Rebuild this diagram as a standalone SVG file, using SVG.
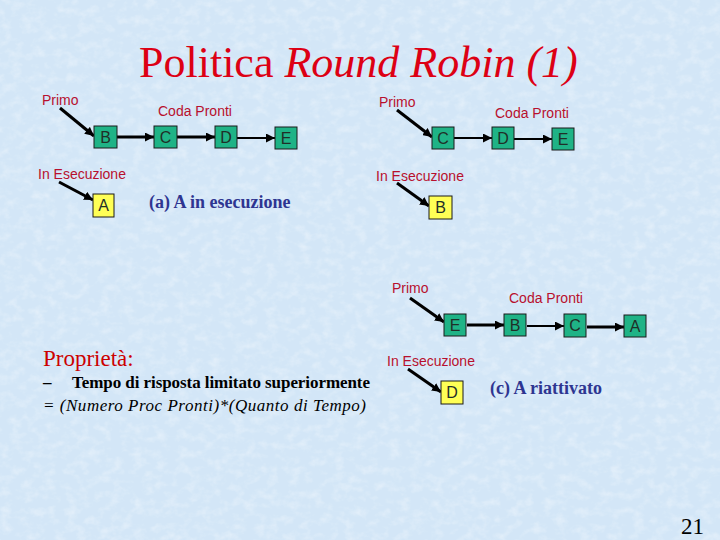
<svg xmlns="http://www.w3.org/2000/svg" width="720" height="540" viewBox="0 0 720 540">
<defs>
<filter id="tex" x="0" y="0" width="100%" height="100%">
<feTurbulence type="fractalNoise" baseFrequency="0.09 0.12" numOctaves="3" seed="7" result="n"/>
<feColorMatrix in="n" type="matrix" values="0 0 0 0 1  0 0 0 0 1  0 0 0 0 1  0 0 0 1.8 -0.8"/>
</filter>
<marker id="ah" markerUnits="userSpaceOnUse" markerWidth="10" markerHeight="9" refX="9" refY="4.5" orient="auto">
<path d="M0,0 L9,4.5 L0,9 Z" fill="#000"/>
</marker>
<style>
.bx{stroke:#1a1a1a;stroke-width:1}
.g{fill:#1fb386}
.y{fill:#ffff55}
.bt{font-family:"Liberation Sans",Arial,sans-serif;font-size:16px;fill:#1f2f28;text-anchor:middle}
.lb{font-family:"Liberation Sans",Arial,sans-serif;font-size:14px;fill:#b8102e}
.c{fill:none;stroke:#000;marker-end:url(#ah)}
.k{stroke-width:3}
.t{stroke-width:2}
.cap{font-family:"Liberation Serif","Times New Roman",serif;font-size:18px;font-weight:bold;fill:#2e3591}
</style>
</defs>
<rect width="720" height="540" fill="#d3e6f7"/>
<rect width="720" height="540" filter="url(#tex)" opacity="0.4"/>

<text x="139" y="77" font-family="Liberation Serif,'Times New Roman',serif" font-size="44" fill="#dd0014">Politica <tspan font-style="italic">Round Robin (1)</tspan></text>

<g id="connectors">
<line class="c k" x1="60" y1="108" x2="94" y2="136"/>
<line class="c k" x1="117" y1="137" x2="154" y2="137"/>
<line class="c k" x1="177" y1="137" x2="215" y2="137"/>
<line class="c t" x1="237" y1="138" x2="275" y2="138"/>
<line class="c k" x1="59" y1="182" x2="93" y2="200"/>

<line class="c k" x1="397" y1="110" x2="432" y2="137"/>
<line class="c t" x1="454" y1="138" x2="492" y2="138"/>
<line class="c t" x1="514" y1="139" x2="552" y2="139"/>
<line class="c k" x1="397" y1="183" x2="429" y2="206"/>

<line class="c k" x1="410" y1="298" x2="444" y2="322"/>
<line class="c k" x1="467" y1="325" x2="504" y2="325"/>
<line class="c t" x1="527" y1="326" x2="564" y2="326"/>
<line class="c k" x1="587" y1="327" x2="624" y2="327"/>
<line class="c k" x1="408" y1="369" x2="441" y2="392"/>
</g>

<g id="a-B"><rect class="bx g" x="94" y="126" width="23" height="22"/><text class="bt" x="105.5" y="143">B</text></g>
<g id="a-C"><rect class="bx g" x="154" y="126" width="23" height="22"/><text class="bt" x="165.5" y="143">C</text></g>
<g id="a-D"><rect class="bx g" x="215" y="126" width="22" height="22"/><text class="bt" x="226" y="143">D</text></g>
<g id="a-E"><rect class="bx g" x="275" y="127" width="22" height="22"/><text class="bt" x="286" y="144">E</text></g>
<g id="a-A"><rect class="bx y" x="93" y="194" width="21" height="23"/><text class="bt" x="103.5" y="211">A</text></g>

<g id="b-C"><rect class="bx g" x="432" y="127" width="22" height="22"/><text class="bt" x="443" y="144">C</text></g>
<g id="b-D"><rect class="bx g" x="492" y="127" width="22" height="22"/><text class="bt" x="503" y="144">D</text></g>
<g id="b-E"><rect class="bx g" x="552" y="128" width="22" height="22"/><text class="bt" x="563" y="145">E</text></g>
<g id="b-B"><rect class="bx y" x="429" y="196" width="23" height="23"/><text class="bt" x="440.5" y="213">B</text></g>

<g id="c-E"><rect class="bx g" x="444" y="314" width="22" height="22"/><text class="bt" x="455" y="331">E</text></g>
<g id="c-B"><rect class="bx g" x="504" y="314" width="22" height="22"/><text class="bt" x="515" y="331">B</text></g>
<g id="c-C"><rect class="bx g" x="564" y="314" width="22" height="23"/><text class="bt" x="575" y="331">C</text></g>
<g id="c-A"><rect class="bx g" x="624" y="315" width="22" height="22"/><text class="bt" x="635" y="332">A</text></g>
<g id="c-D"><rect class="bx y" x="441" y="381" width="22" height="23"/><text class="bt" x="452" y="398">D</text></g>

<g id="labels">
<text class="lb" x="42" y="105">Primo</text>
<text class="lb" x="158" y="116">Coda Pronti</text>
<text class="lb" x="38" y="179">In Esecuzione</text>
<text class="lb" x="379" y="107">Primo</text>
<text class="lb" x="495" y="118">Coda Pronti</text>
<text class="lb" x="376" y="181">In Esecuzione</text>
<text class="lb" x="392" y="293">Primo</text>
<text class="lb" x="509" y="303">Coda Pronti</text>
<text class="lb" x="387" y="366">In Esecuzione</text>
<text class="cap" x="149" y="208">(a) A in esecuzione</text>
<text class="cap" x="490" y="394">(c) A riattivato</text>
</g>

<g id="proprieta">
<text x="43" y="366" font-family="Liberation Serif,'Times New Roman',serif" font-size="23" fill="#cc0000">Proprietà:</text>
<text x="43" y="388" font-family="Liberation Serif,'Times New Roman',serif" font-size="17" font-weight="bold" fill="#000">–</text>
<text x="72" y="388" font-family="Liberation Serif,'Times New Roman',serif" font-size="17" font-weight="bold" fill="#000" textLength="298" lengthAdjust="spacing">Tempo di risposta limitato superiormente</text>
<text x="43" y="411" font-family="Liberation Serif,'Times New Roman',serif" font-size="17" font-style="italic" fill="#000" textLength="323" lengthAdjust="spacing">= (Numero Proc Pronti)*(Quanto di Tempo)</text>
</g>

<text x="681" y="534" font-family="Liberation Serif,'Times New Roman',serif" font-size="23" fill="#000">21</text>
</svg>
